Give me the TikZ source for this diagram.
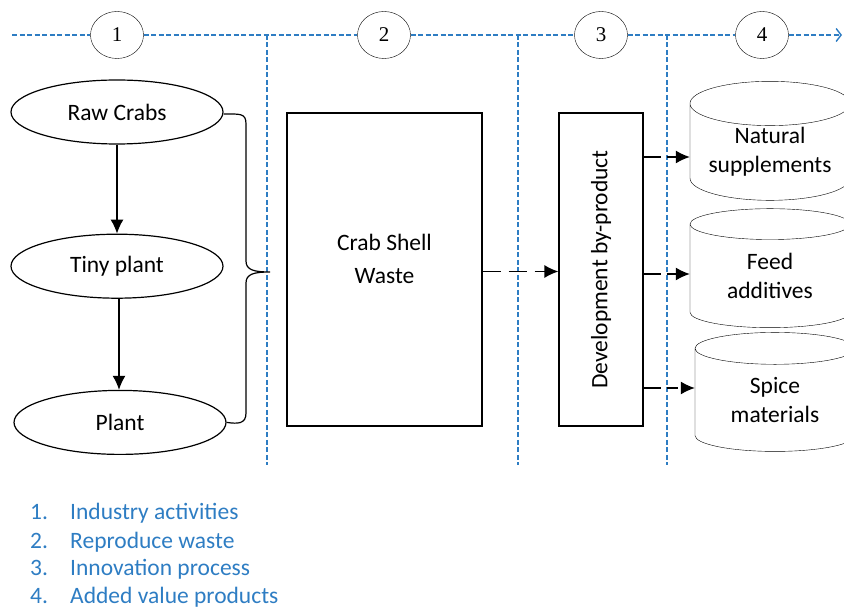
\documentclass[tikz,border=0pt]{standalone}
\usepackage{fontspec}
\setmainfont{Carlito}
\newfontfamily\numfont{Liberation Serif}
\usetikzlibrary{shapes.geometric,arrows.meta,positioning}
\definecolor{stageblue}{RGB}{46,125,195}
\tikzstyle{stage} = [ellipse, draw, fill=white, minimum width=53pt, minimum height=47pt, inner sep=0pt, font=\numfont\fontsize{21}{24}\selectfont]
\tikzstyle{source} = [ellipse, draw, line width=1.2pt, minimum width=212pt, minimum height=64pt, inner sep=0pt]
\tikzstyle{block} = [rectangle, draw, line width=1.2pt, minimum width=195pt, minimum height=313pt]
\tikzstyle{product} = [cylinder, shape border rotate=90, draw, aspect=0.36, minimum width=160pt, minimum height=119pt, align=center, inner sep=0pt]
\tikzstyle{divider} = [draw=stageblue, line width=1.4pt, dash pattern=on 5pt off 2.5pt]
\tikzstyle{line} = [draw, line width=1.3pt, -{Latex[length=14pt,width=13pt]}]
\tikzstyle{feeder} = [line, dash pattern=on 17pt off 6pt on 11pt off 4pt]
\tikzstyle{legend} = [anchor=base west, text=stageblue, inner sep=0pt]

\begin{document}
\begin{tikzpicture}[x=1pt, y=-1pt, font=\fontsize{23.5}{29}\selectfont]
            \clip (0,0) rectangle (844,609);

            % stages along the top
            \node[stage] (s1) at (117,35) {1};
            \node[stage] (s2) at (384,35) {2};
            \node[stage] (s3) at (601,35) {3};
            \node[stage] (s4) at (762,35) {4};
            \coordinate (axis start) at (12,35);
            \coordinate (axis end) at (842,35);
            \draw[divider, -{Straight Barb[length=5pt,width=13pt,line width=1.4pt]}] (axis start) -- (s1) -- (s2) -- (s3) -- (s4) -- (axis end);

            \coordinate (d1 top) at (267,35);
            \coordinate (d1 bottom) at (267,465);
            \coordinate (d2 top) at (518,35);
            \coordinate (d2 bottom) at (518,465);
            \coordinate (d3 top) at (667,35);
            \coordinate (d3 bottom) at (667,465);
            \draw[divider] (d1 top) -- (d1 bottom);
            \draw[divider] (d2 top) -- (d2 bottom);
            \draw[divider] (d3 top) -- (d3 bottom);

            % industry activities
            \node[source]                      (raw) at (117,112) {Raw Crabs};
            \node[source, below=89pt of raw]   (tiny) {Tiny plant};
            \node[source, below=91pt of tiny, xshift=3pt] (plant) {Plant};
            \path[line] (raw) -- (tiny);
            \path[line] ([xshift=2pt]tiny.south) -- ([xshift=2pt]tiny.south |- plant.north);

            \coordinate (brace tip) at (270,272);
            \draw[line width=1.2pt] ([yshift=-2pt]raw.east) .. controls (240,114) and (246,113) .. (246,124)
                -- (246,261) .. controls (246,270) and (254,272) .. (brace tip)
                .. controls (254,272) and (246,274) .. (246,283)
                -- (246,413) .. controls (246,424) and (238,424) .. (plant.east);

            % waste and by-product
            \node[block] (waste) at (384.5,269.5) {};
            \node[align=center, font=\fontsize{23.5}{33}\selectfont] (waste text) at ([yshift=11pt]waste.center) {Crab Shell\\Waste};
            \node[block, minimum width=84pt] (devel) at (601,269.5) {\rotatebox{90}{Development by-product}};
            \path[line, dash pattern=on 18pt off 8pt] ([yshift=-2pt]waste.east) -- ([yshift=-2pt]devel.west);

            % added value products
            \node[product] (natural) at (770,152) {Natural\\supplements};
            \node[product] (feed) at (770,276) {Feed\\additives};
            \node[product] (spice) at (775,400) {Spice\\materials};
            \path[feeder] (devel.east |- natural.west) ++(0,5) -- ([yshift=-5pt]natural.west);
            \path[feeder] (devel.east |- feed.west) ++(0,-2) -- ([yshift=2pt]feed.west);
            \path[feeder] (devel.east |- spice.west) ++(0,-12) -- ([yshift=12pt]spice.west);

            % legend
            \node[legend] (legend1) at (30,519) {\makebox[40pt][l]{1.}Industry activities};
            \node[legend] (legend2) at (30,548) {\makebox[40pt][l]{2.}Reproduce waste};
            \node[legend] (legend3) at (30,576) {\makebox[40pt][l]{3.}Innovation process};
            \node[legend] (legend4) at (30,603) {\makebox[40pt][l]{4.}Added value products};
        \end{tikzpicture}
\end{document}
